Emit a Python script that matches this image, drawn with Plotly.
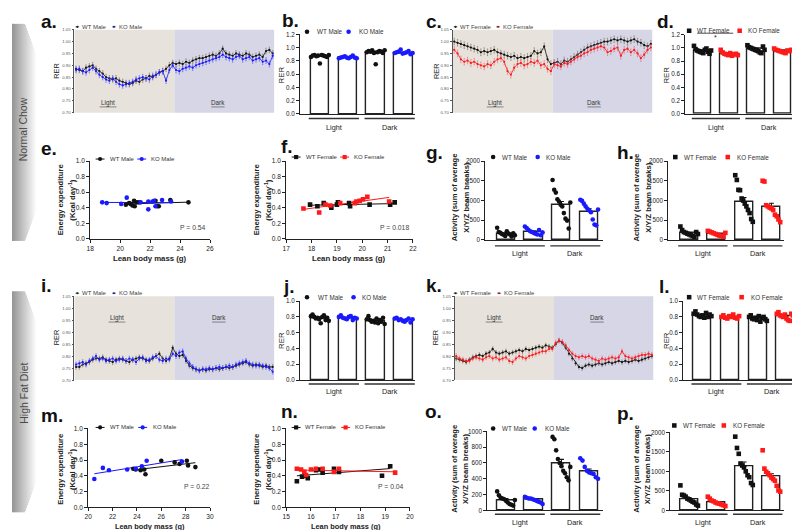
import numpy as np
import plotly.graph_objects as go

W, H = 800, 530
FONT = "Arial, Liberation Sans, sans-serif"

# ---------------- data ----------------
male_names = ["WT Male", "KO Male"]
female_names = ["WT Female", "KO Female"]
phases = ["Light", "Dark"]
diet_labels = ["Normal Chow", "High Fat Diet"]
panel_letters = ["a.", "b.", "c.", "d.", "e.", "f.", "g.", "h.",
                 "i.", "j.", "k.", "l.", "m.", "n.", "o.", "p."]
ee_title = ["Energy expenditure", "(Kcal day<sup>-1</sup>)"]
act_title = ["Activity (sum of average", "X/Y/Z beam breaks)"]
mass_title = "Lean body mass (g)"
rer_title = "RER"

rer_ts_ticks = [0.70, 0.75, 0.80, 0.85, 0.90, 0.95, 1.00, 1.05]
rer_bar_ticks_nc = [0.0, 0.2, 0.4, 0.6, 0.8, 1.0, 1.2]
rer_bar_ticks_hfd = [0.0, 0.2, 0.4, 0.6, 0.8, 1.0]
ee_ticks = [0.0, 0.2, 0.4, 0.6, 0.8, 1.0]
act_ticks_2000 = [0, 500, 1000, 1500, 2000]
act_ticks_1000 = [0, 200, 400, 600, 800, 1000]
mass_ticks_e = [18, 20, 22, 24, 26]
mass_ticks_f = [17, 18, 19, 20, 21, 22]
mass_ticks_m = [20, 22, 24, 26, 28, 30]
mass_ticks_n = [15, 16, 17, 18, 19, 20]

n_per_phase = 30
time_h = [(i + 0.5) * 12 / n_per_phase for i in range(2 * n_per_phase)]

a_wt = [0.885, 0.88, 0.875, 0.89, 0.895, 0.90, 0.885, 0.875, 0.865, 0.85,
        0.845, 0.84, 0.845, 0.835, 0.83, 0.825, 0.82, 0.825, 0.835, 0.83,
        0.84, 0.845, 0.855, 0.85, 0.86, 0.87, 0.875, 0.885, 0.90, 0.91,
        0.905, 0.91, 0.905, 0.915, 0.91, 0.92, 0.925, 0.93, 0.93, 0.935,
        0.94, 0.945, 0.94, 0.95, 0.97, 0.95, 0.945, 0.94, 0.95, 0.945,
        0.94, 0.95, 0.945, 0.935, 0.94, 0.945, 0.935, 0.96, 0.965, 0.95]
a_ko = [0.88, 0.885, 0.875, 0.87, 0.88, 0.89, 0.875, 0.86, 0.85, 0.84,
        0.835, 0.845, 0.83, 0.82, 0.815, 0.82, 0.825, 0.83, 0.84, 0.845,
        0.85, 0.845, 0.84, 0.855, 0.86, 0.87, 0.875, 0.835, 0.88, 0.90,
        0.88, 0.875, 0.885, 0.89, 0.895, 0.89, 0.90, 0.905, 0.91, 0.915,
        0.92, 0.925, 0.93, 0.935, 0.945, 0.935, 0.93, 0.925, 0.935, 0.94,
        0.925, 0.93, 0.935, 0.92, 0.925, 0.93, 0.915, 0.92, 0.905, 0.94]
c_wt = [1.0, 0.995, 0.99, 0.985, 0.98, 0.975, 0.97, 0.965, 0.955, 0.96,
        0.955, 0.96, 0.965, 0.955, 0.95, 0.945, 0.94, 0.935, 0.94, 0.93,
        0.935, 0.93, 0.935, 0.94, 0.96, 0.95, 0.955, 0.98, 0.925, 0.905,
        0.91, 0.915, 0.905, 0.92, 0.915, 0.925, 0.935, 0.945, 0.955, 0.965,
        0.975, 0.98, 0.985, 0.99, 0.995, 1.0, 1.0, 1.005, 1.01, 1.005,
        1.01, 1.005, 1.0, 1.005, 1.01, 1.0, 0.995, 0.985, 0.98, 0.99]
c_ko = [0.965, 0.95, 0.925, 0.915, 0.92, 0.91, 0.915, 0.905, 0.90, 0.895,
        0.905, 0.90, 0.915, 0.925, 0.93, 0.915, 0.875, 0.86, 0.89, 0.905,
        0.91, 0.90, 0.905, 0.915, 0.91, 0.92, 0.90, 0.905, 0.885, 0.875,
        0.905, 0.90, 0.895, 0.91, 0.905, 0.915, 0.925, 0.935, 0.94, 0.95,
        0.955, 0.965, 0.97, 0.975, 0.98, 0.975, 0.955, 0.96, 0.97, 0.975,
        0.94, 0.965, 0.97, 0.955, 0.965, 0.95, 0.93, 0.945, 0.965, 0.975]
i_wt = [0.755, 0.755, 0.765, 0.77, 0.775, 0.785, 0.79, 0.79, 0.795, 0.785,
        0.78, 0.775, 0.785, 0.79, 0.785, 0.78, 0.775, 0.785, 0.79, 0.795,
        0.79, 0.785, 0.78, 0.79, 0.80, 0.81, 0.79, 0.78, 0.79, 0.835,
        0.81, 0.80, 0.805, 0.78, 0.76, 0.75, 0.745, 0.74, 0.745, 0.74,
        0.745, 0.745, 0.75, 0.745, 0.75, 0.755, 0.75, 0.755, 0.76, 0.765,
        0.77, 0.775, 0.765, 0.76, 0.765, 0.76, 0.755, 0.76, 0.755, 0.755]
i_ko = [0.765, 0.77, 0.775, 0.765, 0.78, 0.79, 0.80, 0.785, 0.79, 0.78,
        0.785, 0.79, 0.78, 0.785, 0.79, 0.78, 0.79, 0.785, 0.775, 0.79,
        0.795, 0.78, 0.785, 0.795, 0.80, 0.785, 0.78, 0.79, 0.785, 0.81,
        0.80, 0.815, 0.82, 0.79, 0.77, 0.755, 0.745, 0.74, 0.745, 0.745,
        0.75, 0.745, 0.75, 0.755, 0.75, 0.755, 0.76, 0.755, 0.765, 0.77,
        0.775, 0.78, 0.77, 0.765, 0.76, 0.765, 0.76, 0.755, 0.75, 0.735]
k_wt = [0.79, 0.785, 0.78, 0.775, 0.785, 0.795, 0.80, 0.805, 0.80, 0.81,
        0.815, 0.83, 0.815, 0.81, 0.815, 0.82, 0.81, 0.815, 0.82, 0.825,
        0.82, 0.83, 0.825, 0.83, 0.835, 0.84, 0.835, 0.845, 0.84, 0.835,
        0.85, 0.865, 0.855, 0.835, 0.81, 0.79, 0.77, 0.755, 0.75, 0.76,
        0.765, 0.76, 0.765, 0.77, 0.765, 0.77, 0.775, 0.77, 0.775, 0.78,
        0.775, 0.78, 0.775, 0.78, 0.785, 0.78, 0.785, 0.79, 0.795, 0.80]
k_ko = [0.80, 0.79, 0.785, 0.78, 0.78, 0.79, 0.795, 0.79, 0.785, 0.795,
        0.80, 0.79, 0.795, 0.785, 0.79, 0.795, 0.78, 0.775, 0.79, 0.80,
        0.795, 0.79, 0.80, 0.805, 0.81, 0.815, 0.82, 0.82, 0.83, 0.83,
        0.855, 0.865, 0.86, 0.845, 0.825, 0.81, 0.80, 0.795, 0.80, 0.795,
        0.80, 0.79, 0.785, 0.78, 0.79, 0.785, 0.79, 0.795, 0.79, 0.795,
        0.82, 0.80, 0.795, 0.79, 0.795, 0.80, 0.805, 0.805, 0.81, 0.805]
ts_sem = {"a": (0.012, 0.012), "c": (0.014, 0.014), "i": (0.010, 0.010), "k": (0.009, 0.010)}

# bar groups order: WT Light, KO Light, WT Dark, KO Dark
b_means = [0.87, 0.85, 0.93, 0.92]
b_sems = [0.012, 0.006, 0.017, 0.008]
b_pts = [[0.86, 0.88, 0.89, 0.87, 0.88, 0.76, 0.89, 0.88, 0.87, 0.86, 0.89],
         [0.84, 0.85, 0.86, 0.87, 0.85, 0.84, 0.86, 0.88, 0.85, 0.84],
         [0.93, 0.95, 0.94, 0.96, 0.92, 0.75, 0.93, 0.95, 0.94, 0.92, 0.96],
         [0.92, 0.93, 0.94, 0.97, 0.91, 0.92, 0.93, 0.95, 0.90, 0.92]]
d_means = [0.95, 0.91, 0.98, 0.95]
d_sems = [0.012, 0.008, 0.012, 0.008]
d_pts = [[1.03, 0.98, 0.96, 0.95, 0.94, 0.93, 0.92, 0.97, 0.99, 0.94, 0.91, 0.96],
         [0.97, 0.93, 0.91, 0.90, 0.89, 0.92, 0.88, 0.90, 0.91, 0.89],
         [1.04, 1.01, 1.0, 0.99, 0.98, 0.97, 0.96, 0.95, 0.93, 0.92, 1.02, 0.97],
         [0.99, 0.97, 0.96, 0.95, 0.94, 0.93, 0.92, 0.96, 0.95, 0.97]]
j_means = [0.79, 0.79, 0.75, 0.76]
j_sems = [0.010, 0.006, 0.010, 0.006]
j_pts = [[0.81, 0.83, 0.80, 0.78, 0.79, 0.77, 0.72, 0.80, 0.82, 0.76, 0.79, 0.75],
         [0.80, 0.82, 0.79, 0.78, 0.77, 0.80, 0.81, 0.76, 0.79, 0.78],
         [0.77, 0.81, 0.76, 0.74, 0.75, 0.73, 0.78, 0.72, 0.76, 0.74, 0.79, 0.71],
         [0.78, 0.79, 0.76, 0.77, 0.75, 0.74, 0.76, 0.78, 0.73, 0.77]]
l_means = [0.82, 0.80, 0.79, 0.81]
l_sems = [0.008, 0.005, 0.009, 0.010]
l_pts = [[0.84, 0.87, 0.83, 0.81, 0.80, 0.82, 0.79, 0.85, 0.80, 0.83, 0.81],
         [0.80, 0.82, 0.79, 0.78, 0.81, 0.80, 0.83, 0.79, 0.78, 0.81],
         [0.80, 0.82, 0.78, 0.77, 0.79, 0.76, 0.81, 0.74, 0.79, 0.80, 0.77, 0.75],
         [0.84, 0.86, 0.82, 0.81, 0.80, 0.83, 0.78, 0.76, 0.75, 0.84, 0.82, 0.80]]
g_means = [160, 205, 880, 720]
g_sems = [20, 20, 95, 70]
g_pts = [[310, 200, 180, 150, 130, 100, 220, 160, 140, 90, 170, 120],
         [340, 300, 260, 220, 200, 180, 160, 140, 250, 120, 190],
         [1520, 1270, 1200, 1030, 975, 890, 850, 680, 540, 490, 290, 950],
         [1020, 990, 920, 850, 790, 750, 700, 520, 390, 370, 770]]
h_means = [165, 150, 960, 830]
h_sems = [22, 15, 115, 100]
h_pts = [[340, 250, 200, 180, 160, 140, 120, 100, 80, 200, 150],
         [230, 210, 190, 170, 150, 130, 110, 100, 80, 180],
         [1640, 1520, 1270, 1260, 1050, 1000, 920, 850, 760, 680, 530, 460],
         [1500, 1480, 880, 850, 820, 800, 760, 640, 600, 520, 450]]
o_means = [130, 140, 590, 495]
o_sems = [18, 8, 55, 28]
o_pts = [[240, 190, 160, 150, 140, 120, 100, 80, 70, 60, 130],
         [170, 160, 150, 150, 140, 130, 120, 110, 100, 80],
         [930, 900, 760, 650, 600, 560, 500, 470, 420, 380, 550],
         [660, 630, 550, 500, 480, 470, 460, 420, 400]]
p_means = [280, 200, 1130, 860]
p_sems = [40, 25, 110, 80]
p_pts = [[640, 400, 380, 350, 300, 280, 250, 220, 200, 150, 120],
         [350, 300, 250, 230, 200, 180, 170, 150, 130, 110],
         [1890, 1600, 1450, 1200, 1150, 1100, 1000, 900, 850, 700, 650],
         [1540, 1070, 990, 950, 900, 840, 800, 760, 630, 510, 480]]

e_wt_x = [20.38, 20.6, 20.71, 20.82, 20.93, 20.97, 21.1, 21.26, 22.36, 22.47, 22.58, 23.35, 24.56]
e_wt_y = [0.44, 0.46, 0.45, 0.43, 0.49, 0.42, 0.47, 0.47, 0.49, 0.42, 0.42, 0.50, 0.47]
e_ko_x = [18.8, 19.1, 20.07, 20.44, 21.37, 21.88, 21.88, 22.16, 22.27, 22.36, 22.8, 23.4]
e_ko_y = [0.47, 0.46, 0.45, 0.53, 0.47, 0.48, 0.38, 0.48, 0.49, 0.42, 0.50, 0.48]
f_wt_x = [17.94, 18.23, 18.48, 18.78, 19.0, 19.04, 19.48, 19.52, 20.29, 21.1, 21.28]
f_wt_y = [0.44, 0.42, 0.46, 0.40, 0.44, 0.47, 0.46, 0.42, 0.44, 0.44, 0.47]
f_ko_x = [17.68, 18.3, 18.55, 18.74, 19.13, 19.7, 19.77, 19.9, 20.03, 20.2, 21.06]
f_ko_y = [0.39, 0.34, 0.44, 0.43, 0.46, 0.46, 0.48, 0.49, 0.51, 0.54, 0.48]
m_wt_x = [23.7, 23.9, 24.3, 24.6, 24.7, 26.0, 27.1, 27.5, 28.1, 28.2, 28.8]
m_wt_y = [0.49, 0.48, 0.47, 0.48, 0.42, 0.59, 0.57, 0.55, 0.59, 0.53, 0.51]
m_ko_x = [20.5, 21.2, 21.7, 23.2, 23.9, 24.4, 24.8, 27.7]
m_ko_y = [0.36, 0.50, 0.47, 0.48, 0.49, 0.52, 0.59, 0.58]
n_wt_x = [15.43, 15.64, 15.77, 15.87, 16.2, 16.33, 16.47, 16.93, 17.13, 18.87, 19.2]
n_wt_y = [0.33, 0.39, 0.40, 0.37, 0.47, 0.48, 0.44, 0.49, 0.45, 0.40, 0.52]
n_ko_x = [15.43, 15.6, 15.73, 15.8, 16.0, 16.2, 16.47, 16.93, 17.13, 19.4]
n_ko_y = [0.49, 0.48, 0.45, 0.41, 0.48, 0.49, 0.49, 0.45, 0.49, 0.44]
p_values = ["P = 0.54", "P = 0.018", "P = 0.22", "P = 0.04"]

# ---------------- styling ----------------
BLACK = "#111111"
BLUE = "#1a1aff"
RED = "#ff1a1a"
LIGHT_BG = "#e7e3dc"
DARK_BG = "#d6d6e7"

fig = go.Figure()
layout = {}
shapes = []
annotations = []
ax_count = [0]


def new_axes(L, R, T, B, xr, yr, xopts, yopts):
    ax_count[0] += 1
    k = ax_count[0]
    xn = "xaxis" if k == 1 else f"xaxis{k}"
    yn = "yaxis" if k == 1 else f"yaxis{k}"
    xref = "x" if k == 1 else f"x{k}"
    yref = "y" if k == 1 else f"y{k}"
    layout[xn] = dict(domain=[L / W, R / W], range=xr, anchor=yref, fixedrange=True,
                      showgrid=False, zeroline=False, **xopts)
    layout[yn] = dict(domain=[1 - B / H, 1 - T / H], range=yr, anchor=xref, fixedrange=True,
                      showgrid=False, zeroline=False, **yopts)
    return xref, yref


def yax(ticks, fmt, fs, color="#222", lw=1.0, tl=3):
    return dict(tickmode="array", tickvals=ticks, ticktext=[format(t, fmt) for t in ticks],
                showline=True, linecolor=color, linewidth=lw, ticks="outside", ticklen=tl,
                tickwidth=lw, tickcolor=color, tickfont=dict(size=fs, color=color, family=FONT))


def text(t, x, y, size, color="#222", bold=False, angle=0, xanchor="center", xref="paper"):
    if bold:
        t = f"<b>{t}</b>"
    annotations.append(dict(text=t, x=(x / W if xref == "paper" else x), y=1 - y / H,
                            xref=xref, yref="paper", showarrow=False, textangle=angle,
                            xanchor=xanchor, yanchor="middle",
                            font=dict(size=size, color=color, family=FONT)))


def two_line_ytitle(lines, x, y, size=7.6, gap=11.5):
    text(lines[0], x - gap / 2, y, size, bold=True, angle=-90)
    text(lines[1], x + gap / 2, y, size, bold=True, angle=-90)


def sym_shape(kind, cx, cy, size, color):
    r = size / 2
    shapes.append(dict(type="circle" if kind == "circle" else "rect", xref="paper", yref="paper",
                       x0=(cx - r) / W, x1=(cx + r) / W, y0=1 - (cy + r) / H, y1=1 - (cy - r) / H,
                       fillcolor=color, line=dict(width=0)))


def hline_px(x0, x1, y, color, width):
    shapes.append(dict(type="line", xref="paper", yref="paper", x0=x0 / W, x1=x1 / W,
                       y0=1 - y / H, y1=1 - y / H, line=dict(color=color, width=width)))


def legend(items, y, kind, size, fs, with_line=False, tcolor="#222"):
    for cx, tx, name, color in items:
        if with_line:
            hline_px(cx - 4.5, cx + 4.5, y, color, 1)
        sym_shape(kind, cx, y, size, color)
        text(name, tx, y, fs, color=tcolor, xanchor="left")


def ts_panel(dom, wt, ko, ko_color, ko_errc, sems, lab_pos, names, leg_x):
    L, R, T, B = dom
    xref, yref = new_axes(L, R, T, B, [0, 24], [0.70, 1.05], dict(visible=False),
                          yax(rer_ts_ticks, ".2f", 4.3, color="#555", lw=0.7, tl=2))
    for x0, x1, col in [(0, 12, LIGHT_BG), (12, 24, DARK_BG)]:
        shapes.append(dict(type="rect", xref=xref, yref=f"{yref} domain", x0=x0, x1=x1, y0=0, y1=1,
                           fillcolor=col, line=dict(width=0), layer="below"))
    fig.add_trace(go.Scatter(x=time_h, y=wt, mode="lines+markers", xaxis=xref, yaxis=yref,
                             line=dict(color=BLACK, width=0.8), marker=dict(size=2.2, color=BLACK),
                             error_y=dict(type="constant", value=sems[0], color="rgba(120,105,80,0.75)",
                                          thickness=0.7, width=0.6), showlegend=False))
    fig.add_trace(go.Scatter(x=time_h, y=ko, mode="lines+markers", xaxis=xref, yaxis=yref,
                             line=dict(color=ko_color, width=0.8), marker=dict(size=2.2, color=ko_color),
                             error_y=dict(type="constant", value=sems[1], color=ko_errc,
                                          thickness=0.7, width=0.6), showlegend=False))
    for (x, y), lab in zip(lab_pos, phases):
        text(lab, x, y, 6.3, color="#333")
        half = len(lab) * 1.7
        hline_px(x - half, x + half, y + 4.2, "#444", 0.6)
    ly = T - 3
    legend([(leg_x[0], leg_x[0] + 3, names[0], BLACK), (leg_x[1], leg_x[1] + 3, names[1], ko_color)],
           ly, "circle", 2.2, 6.0, with_line=False, tcolor="#444")
    for lx in leg_x:
        hline_px(lx - 1.8, lx + 1.8, ly, "#333", 0.8)
    return xref, yref


def bar_panel(dom, c0, s, yr, ticks, fmt, means, sems, pts, kolor, kind, under_y, label_y, leg, leg_y):
    L, R, T, B = dom
    xr = [(L - c0) / s, (R - c0) / s]
    xref, yref = new_axes(L, R, T, B, xr, yr,
                          dict(showline=True, linecolor="#222", linewidth=1, showticklabels=False, ticks=""),
                          yax(ticks, fmt, 6.3))
    pos = [0, 1, 2, 3]
    fig.add_trace(go.Bar(x=pos, y=means, width=0.66, xaxis=xref, yaxis=yref, textposition="none",
                         marker=dict(color="white", line=dict(color="#222", width=1.4)),
                         error_y=dict(type="data", array=sems, arrayminus=[0] * 4, symmetric=False,
                                      color=BLACK, thickness=1.1, width=2.5),
                         showlegend=False))
    colors = [BLACK, kolor, BLACK, kolor]
    for gi in range(4):
        vals = pts[gi]
        offs = np.linspace(-0.32, 0.32, len(vals))
        fig.add_trace(go.Scatter(x=[gi + o for o in offs], y=vals, mode="markers", xaxis=xref, yaxis=yref,
                                 marker=dict(symbol=kind, size=4.6, color=colors[gi], line=dict(width=0)),
                                 showlegend=False, cliponaxis=False))
    for gx0, gx1, lab, xc in [(-0.4, 1.4, phases[0], 0.5), (1.6, 3.4, phases[1], 2.5)]:
        shapes.append(dict(type="line", xref=xref, yref="paper", x0=gx0, x1=gx1,
                           y0=1 - under_y / H, y1=1 - under_y / H, line=dict(color="#333", width=1.4)))
        text(lab, xc, label_y, 7.3, xref=xref)
    legend(leg, leg_y, kind, 4.6, 6.3, tcolor="#333")
    return xref, yref


def sc_panel(dom, xr, xticks, wx, wy, kx, ky, kolor, kind, leg, leg_y, ptext, pxy):
    L, R, T, B = dom
    xref, yref = new_axes(L, R, T, B, xr, [0, 1.0],
                          dict(tickmode="array", tickvals=xticks, ticktext=[str(t) for t in xticks],
                               showline=True, linecolor="#222", linewidth=1, ticks="outside", ticklen=3,
                               tickcolor="#222", tickfont=dict(size=6.6, color="#222", family=FONT)),
                          yax(ee_ticks, ".1f", 6.6))
    for xs, ys, col in [(wx, wy, BLACK), (kx, ky, kolor)]:
        coef = np.polyfit(xs, ys, 1)
        lx = [min(xs), max(xs)]
        fig.add_trace(go.Scatter(x=lx, y=list(np.polyval(coef, lx)), mode="lines", xaxis=xref, yaxis=yref,
                                 line=dict(color=col, width=1), showlegend=False))
    for xs, ys, col in [(wx, wy, BLACK), (kx, ky, kolor)]:
        fig.add_trace(go.Scatter(x=xs, y=ys, mode="markers", xaxis=xref, yaxis=yref,
                                 marker=dict(symbol=kind, size=4.6, color=col), showlegend=False))
    legend(leg, leg_y, kind, 4.2, 6.0, with_line=True, tcolor="#333")
    text(ptext, pxy[0], pxy[1], 6.8, color="#444")
    return xref, yref


# ---------------- side bands ----------------
def side_band(top, bottom, label, cy):
    n = 24
    for k in range(n):
        t = k / (n - 1)
        c = int(150 + t * (250 - 150))
        xm = k + 0.5
        d = 0 if xm <= 13 else (xm - 13) / 11 * 30
        shapes.append(dict(type="rect", xref="paper", yref="paper", x0=k / W, x1=(k + 1.2) / W,
                           y0=1 - (bottom - d) / H, y1=1 - (top + d) / H,
                           fillcolor=f"rgb({c},{c},{c})", line=dict(width=0), layer="below"))
    text(label, 12, cy, 10.5, color="#4a4a4a", angle=-90)


side_band(12, 232, diet_labels[0], 119)
side_band(283, 507, diet_labels[1], 386)

# ---------------- panels ----------------
# a
ts_panel((63, 265, 18, 102), a_wt, a_ko, BLUE, "rgba(70,70,255,0.7)", ts_sem["a"],
         [(97, 92), (208, 92)], male_names, (66, 103))
text(rer_title, 45, 60, 7.3, angle=-90)
# b
bar_panel((291, 407, 22.7, 103.3), 311, 28.2, [0, 1.2], rer_bar_ticks_nc, ".1f", b_means, b_sems, b_pts,
          BLUE, "circle", 108, 117,
          [(298, 306, male_names[0], BLACK), (340, 348, male_names[1], BLUE)], 20)
text(rer_title, 272, 64, 7.8, angle=-90)
# c
ts_panel((445, 647, 18, 102), c_wt, c_ko, RED, "rgba(235,90,110,0.7)", ts_sem["c"],
         [(488, 92), (588, 92)], female_names, (448, 491))
text(rer_title, 428, 60, 7.3, angle=-90)
# d
xd, yd = bar_panel((680, 796, 23, 103), 697.5, 27, [0, 1.2], rer_bar_ticks_nc, ".1f", d_means, d_sems, d_pts,
                   RED, "square", 108, 117,
                   [(684, 690, female_names[0], BLACK), (735, 741, female_names[1], RED)], 19)
text(rer_title, 661, 64, 7.8, angle=-90)
shapes.append(dict(type="line", xref=xd, yref="paper", x0=-0.2, x1=1.15, y0=1 - 21.5 / H, y1=1 - 21.5 / H,
                   line=dict(color="#222", width=0.8)))
text("*", 0.47, 25.5, 7, xref=xd)
# e
sc_panel((79, 200, 151, 230), [18, 26], mass_ticks_e, e_wt_x, e_wt_y, e_ko_x, e_ko_y, BLUE, "circle",
         [(89, 97, male_names[0], BLACK), (131, 138, male_names[1], BLUE)], 149, p_values[0], (183, 218))
two_line_ytitle(ee_title, 55, 190)
text(mass_title, 139, 250, 7.8, bold=True)
# f
sc_panel((277, 405, 151, 230), [17, 22], mass_ticks_f, f_wt_x, f_wt_y, f_ko_x, f_ko_y, RED, "square",
         [(287, 295, female_names[0], BLACK), (336, 343, female_names[1], RED)], 147, p_values[1], (386, 218))
two_line_ytitle(ee_title, 253, 190)
text(mass_title, 340, 250, 7.8, bold=True)
# g
bar_panel((478, 597, 151, 231), 499, 28, [0, 2000], act_ticks_2000, "d", g_means, g_sems, g_pts,
          BLUE, "circle", 237, 245,
          [(486, 493, male_names[0], BLACK), (531, 537, male_names[1], BLUE)], 147)
two_line_ytitle(act_title, 453, 188)
# h
bar_panel((663, 780, 151, 231), 684, 27.7, [0, 2000], act_ticks_2000, "d", h_means, h_sems, h_pts,
          RED, "square", 237, 245,
          [(670, 677, female_names[0], BLACK), (723, 730, female_names[1], RED)], 147)
two_line_ytitle(act_title, 637, 188)
# i
ts_panel((63, 265, 288, 373), i_wt, i_ko, BLUE, "rgba(70,70,255,0.7)", ts_sem["i"],
         [(106, 310), (209, 310)], male_names, (66, 103))
text(rer_title, 45, 330, 7.3, angle=-90)
# j
bar_panel((291, 407, 293, 373), 311, 28.2, [0, 1.0], rer_bar_ticks_hfd, ".1f", j_means, j_sems, j_pts,
          BLUE, "circle", 377, 385,
          [(298, 307, male_names[0], BLACK), (345, 352, male_names[1], BLUE)], 289)
text(rer_title, 272, 333, 7.8, angle=-90)
# k
ts_panel((447, 648, 288, 373), k_wt, k_ko, RED, "rgba(235,90,110,0.7)", ts_sem["k"],
         [(487, 310), (591, 310)], female_names, (448, 492))
text(rer_title, 428, 330, 7.3, angle=-90)
# l
bar_panel((678, 795, 293, 373), 697.5, 28, [0, 1.0], rer_bar_ticks_hfd, ".1f", l_means, l_sems, l_pts,
          RED, "square", 377, 385,
          [(684, 690, female_names[0], BLACK), (737, 744, female_names[1], RED)], 289)
text(rer_title, 661, 333, 7.8, angle=-90)
# m
sc_panel((77, 200, 422, 502), [20, 30], mass_ticks_m, m_wt_x, m_wt_y, m_ko_x, m_ko_y, BLUE, "circle",
         [(89, 97, male_names[0], BLACK), (132, 140, male_names[1], BLUE)], 421, p_values[2], (187, 481))
two_line_ytitle(ee_title, 55, 463)
text(mass_title, 139, 521, 7.4, bold=True)
# n
sc_panel((277, 402, 422, 502), [15, 20], mass_ticks_n, n_wt_x, n_wt_y, n_ko_x, n_ko_y, RED, "square",
         [(287, 294, female_names[0], BLACK), (337, 344, female_names[1], RED)], 421, p_values[3], (383, 481))
two_line_ytitle(ee_title, 253, 463)
text(mass_title, 337, 521, 7.4, bold=True)
# o
bar_panel((480, 597, 425, 505), 499, 28, [0, 1000], act_ticks_1000, "d", o_means, o_sems, o_pts,
          BLUE, "circle", 509, 517,
          [(486, 493, male_names[0], BLACK), (528, 536, male_names[1], BLUE)], 422)
two_line_ytitle(act_title, 453, 463)
# p
bar_panel((665, 780, 426, 505), 684, 27.7, [0, 2000], act_ticks_2000, "d", p_means, p_sems, p_pts,
          RED, "square", 509, 517,
          [(669, 676, female_names[0], BLACK), (719, 726, female_names[1], RED)], 419)
two_line_ytitle(act_title, 637, 463)

# panel letters
letter_pos = [(27, 10), (271, 9), (416, 10), (649, 10),
              (27, 138), (270, 136), (416, 142), (609, 142),
              (27, 277), (272, 278), (416, 277), (652, 278),
              (27, 409), (270, 405), (415, 405), (609, 407)]
for lab, (x, y) in zip(panel_letters, letter_pos):
    text(lab, x, y, 19, color="#111", bold=True, xanchor="left")

layout.update(width=W, height=H, margin=dict(l=0, r=0, t=0, b=0), autosize=False,
              paper_bgcolor="white", plot_bgcolor="white", showlegend=False,
              shapes=shapes, annotations=annotations, bargap=0,
              font=dict(family=FONT))
fig.update_layout(**layout)
fig.write_html("out.html", config={"displayModeBar": False})
